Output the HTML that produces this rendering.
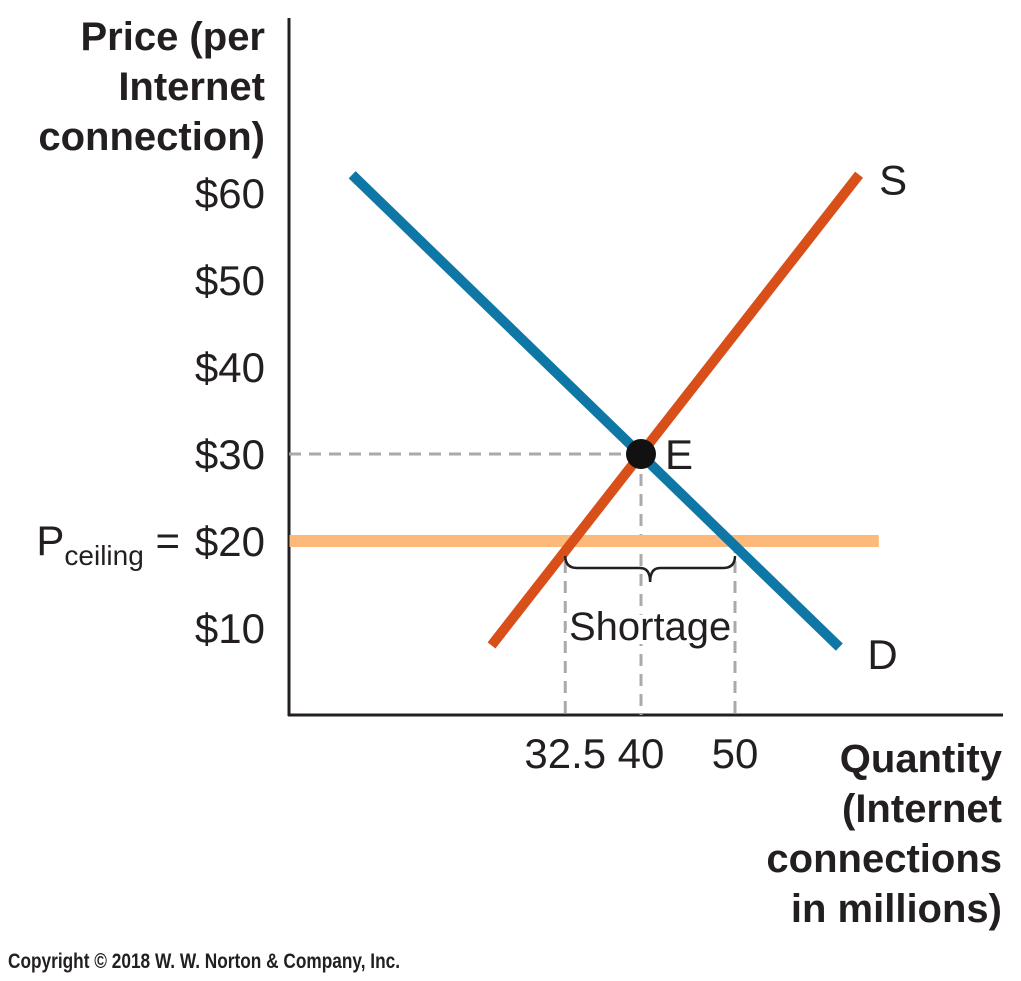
<!DOCTYPE html>
<html><head><meta charset="utf-8"><style>
body{margin:0;background:#fff;width:1021px;height:976px;overflow:hidden}
svg text{font-family:"Liberation Sans",sans-serif;fill:#231f20}
.b{font-weight:bold;font-size:40px}
.t{font-size:40px}
.tk{font-size:42px}
</style></head><body>
<svg id="c" width="1021" height="976">
<g id="axes"></g><g id="marks"></g>
<text class="b" x="265" y="50" text-anchor="end"><tspan x="265" y="50">Price (per</tspan><tspan x="265" y="100">Internet</tspan><tspan x="265" y="150">connection)</tspan></text>
<text class="b" text-anchor="end"><tspan x="1002" y="772">Quantity</tspan><tspan x="1002" y="822">(Internet</tspan><tspan x="1002" y="872">connections</tspan><tspan x="1002" y="922">in millions)</tspan></text>
<text x="8" y="968" textLength="392" lengthAdjust="spacingAndGlyphs" style="font-size:21px;font-weight:bold">Copyright © 2018 W. W. Norton &amp; Company, Inc.</text>
</svg>
<script>
const yTicks=[10,20,30,40,50,60];
const xTicks=[32.5,40,50];
const demandQ=[11.4,61.1], demandP=[62.1,7.8];
const supplyQ=[25.2,63.2], supplyP=[8.0,62.1];
const ceilingPrice=20, ceilingQ=[5.2,65.3];
const eqQ=40, eqP=30;
const shortageQ=[32.5,50];
const ns="http://www.w3.org/2000/svg";
function X(q){return Math.max(289,q<=40?641+(q-40)*10.1:641+(q-40)*9.4);}
function Y(p){return 715-p*8.7;}
const axes=document.getElementById('axes'),marks=document.getElementById('marks');
function el(t,a,parent){const e=document.createElementNS(ns,t);for(const k in a)e.setAttribute(k,a[k]);parent.appendChild(e);return e;}
let e;
e=el('line',{x1:289,y1:18,x2:289,y2:716,stroke:'#231f20','stroke-width':3},axes);


e=el('line',{x1:288,y1:715,x2:1003,y2:715,stroke:'#231f20','stroke-width':3},axes);


yTicks.forEach(p=>{
 e=el('text',{x:265,y:Y(p)+15,'text-anchor':'end',class:'tk'},axes);e.textContent='$'+p;
 
 
});
xTicks.forEach(q=>{
 e=el('text',{x:X(q),y:768,'text-anchor':'middle',class:'tk'},axes);e.textContent=String(q);
 
 
});
e=el('text',{x:180,y:555,class:'tk','text-anchor':'end'},axes);
e.innerHTML='P<tspan style="font-size:28px" dy="10">ceiling</tspan><tspan dy="-10"> =</tspan>';


const dash={stroke:'#aaa','stroke-width':3,'stroke-dasharray':'12,8'};
e=el('line',Object.assign({x1:289,y1:Y(eqP),x2:X(eqQ),y2:Y(eqP)},dash),marks);


e=el('line',Object.assign({x1:X(eqQ),y1:Y(eqP),x2:X(eqQ),y2:715},dash),marks);


shortageQ.forEach(q=>{
 e=el('line',Object.assign({x1:X(q),y1:Y(ceilingPrice),x2:X(q),y2:715},dash),marks);
 
 
});
e=el('line',{x1:X(ceilingQ[0]),y1:Y(ceilingPrice),x2:X(ceilingQ[1]),y2:Y(ceilingPrice),stroke:'#fdb97a','stroke-width':12},marks);


e=el('line',{x1:X(supplyQ[0]),y1:Y(supplyP[0]),x2:X(supplyQ[1]),y2:Y(supplyP[1]),stroke:'#d84f1a','stroke-width':10},marks);


e=el('line',{x1:X(demandQ[0]),y1:Y(demandP[0]),x2:X(demandQ[1]),y2:Y(demandP[1]),stroke:'#0f77a6','stroke-width':10},marks);


e=el('circle',{cx:X(eqQ),cy:Y(eqP),r:15,fill:'#111'},marks);


e=el('text',{x:X(eqQ)+24,y:Y(eqP)+15,class:'tk'},marks);e.textContent='E';


e=el('text',{x:X(supplyQ[1])+20,y:Y(supplyP[1])+20,class:'tk'},marks);e.textContent='S';


e=el('text',{x:X(demandQ[1])+28,y:Y(demandP[1])+22,class:'tk'},marks);e.textContent='D';


const a=X(shortageQ[0]),b=X(shortageQ[1]),m=(a+b)/2,y0=Y(ceilingPrice)+15;
e=el('path',{d:`M${a},${y0} q0,12 12,12 L${m-10},${y0+12} q10,0 10,14 q0,-14 10,-14 L${b-12},${y0+12} q12,0 12,-12`,fill:'none',stroke:'#231f20','stroke-width':2.5},marks);


e=el('text',{x:m,y:640,'text-anchor':'middle',class:'t',style:'stroke:#fff;stroke-width:8px;paint-order:stroke'},marks);e.textContent='Shortage';


</script>
</body></html>
